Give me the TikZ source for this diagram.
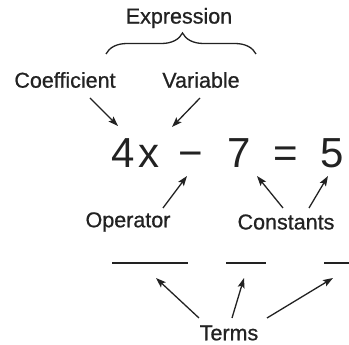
\documentclass[tikz,border=0pt]{standalone}
\usepackage{fontspec}
\setmainfont{Liberation Sans}
\newfontfamily\lblfont[FakeBold=0.8]{Liberation Sans}
\usetikzlibrary{arrows.meta,decorations.pathreplacing}
\definecolor{ink}{HTML}{222222}
\begin{document}
\begin{tikzpicture}[x=1pt,y=-1pt,
  lbl/.style={inner sep=0pt,text=ink,font=\lblfont\fontsize{21.5}{24}\selectfont},
  big/.style={inner sep=0pt,anchor=base,text=ink,font=\fontsize{42}{46}\selectfont},
  arr/.style={draw=ink,line width=1.3pt,-{Stealth[length=10pt,width=7pt,inset=2pt]}},
  bar/.style={draw=ink,line width=2pt}]
\useasboundingbox (0,0) rectangle (349,345);
% labels
\node[lbl] (expr) at (179,18) {Expression};
\node[lbl] (coef) at (65,80) {Coefficient};
\node[lbl] (var) at (201,80) {Variable};
\node[lbl] (op) at (128,222) {Operator};
\node[lbl] (const) at (286,222) {Constants};
\node[lbl] (terms) at (229,333) {Terms};
% equation
\node[big] (n4) at (123,168) {4};
\node[big] (nx) at (148.5,168) {x};
\node[big] (minus) at (191,168) {\char"2212};
\node[big] (n7) at (239,168) {7};
\node[big] (eqs) at (286,168) {=};
\node[big] (n5) at (332.5,168) {5};
% brace
\coordinate (bl) at (106,54);
\coordinate (br) at (256,54);
\draw[draw=ink,line width=1.3pt,decorate,decoration={brace,amplitude=21pt,aspect=0.51}] (bl) -- (br);
% arrow end points
\coordinate (c1) at (90,98);   \coordinate (c2) at (118,126);
\coordinate (v1) at (200,98);  \coordinate (v2) at (172,127);
\coordinate (o1) at (163,208); \coordinate (o2) at (187,176);
\coordinate (k1) at (283,208); \coordinate (k2) at (257,176);
\coordinate (k3) at (309,208); \coordinate (k4) at (328,176);
\coordinate (t1) at (199,318); \coordinate (t2) at (156,278);
\coordinate (t3) at (232,318); \coordinate (t4) at (244,278);
\coordinate (t5) at (267,318); \coordinate (t6) at (333,278);
\draw[arr] (c1) -- (c2);
\draw[arr] (v1) -- (v2);
\draw[arr] (o1) -- (o2);
\draw[arr] (k1) -- (k2);
\draw[arr] (k3) -- (k4);
\draw[arr] (t1) -- (t2);
\draw[arr] (t3) -- (t4);
\draw[arr] (t5) -- (t6);
% term bars
\coordinate (a1) at (112,263); \coordinate (a2) at (188,263);
\coordinate (b1) at (226,263); \coordinate (b2) at (266,263);
\coordinate (d1) at (324,263); \coordinate (d2) at (349,263);
\draw[bar] (a1) -- (a2);
\draw[bar] (b1) -- (b2);
\draw[bar] (d1) -- (d2);
\end{tikzpicture}
\end{document}
